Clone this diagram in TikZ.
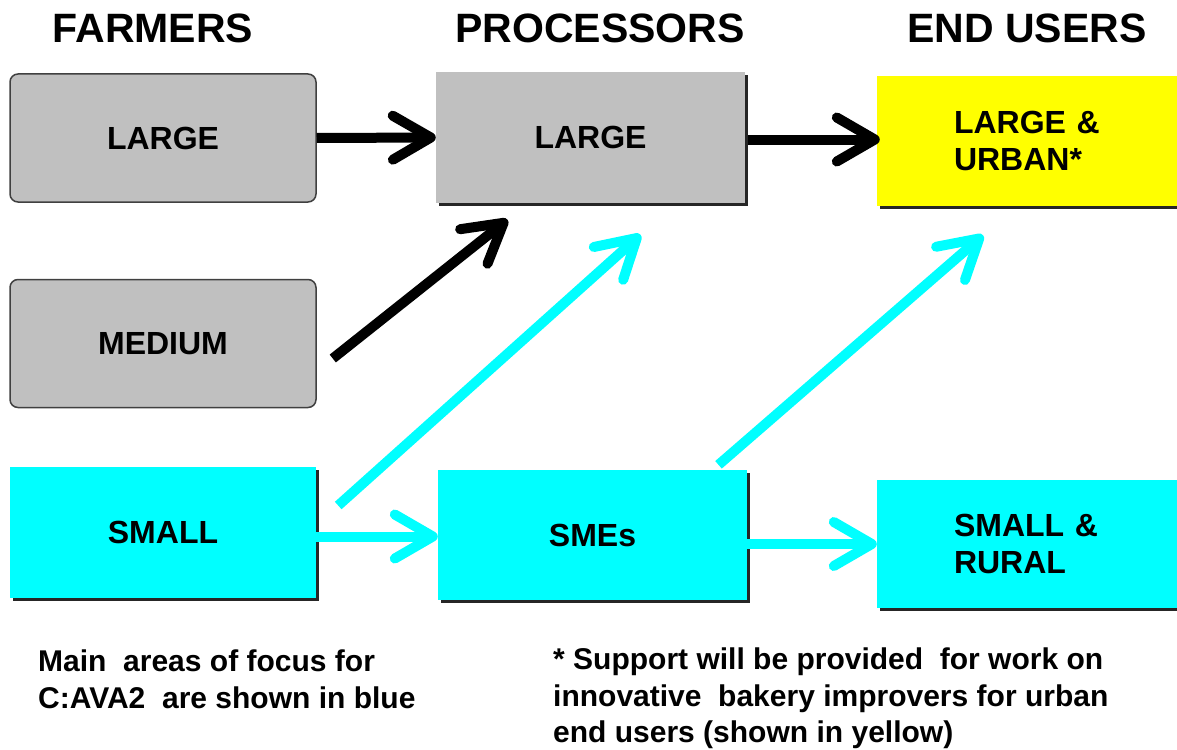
\documentclass[tikz,border=0pt]{standalone}
\usepackage{fontspec}
\setmainfont{Liberation Sans}
\usepackage{tikz}
\usetikzlibrary{arrows.meta}
\usetikzlibrary{shadows}

\definecolor{boxgray}{HTML}{C0C0C0}
\definecolor{focusblue}{HTML}{00FFFF}
\definecolor{urbanyellow}{HTML}{FFFF00}

\tikzset{
   heading/.style={font=\fontsize{41}{45}\selectfont\bfseries},
   boxtext/.style={font=\fontsize{32}{37}\selectfont\bfseries},
   farmbox/.style={boxtext, fill=boxgray, draw=black!75, line width=1.5pt,
           rounded corners=8pt, minimum width=306pt, minimum height=128pt},
   flatbox/.style={boxtext, minimum width=309pt, minimum height=130pt,
           drop shadow={shadow xshift=3pt, shadow yshift=-3pt, fill=black!85, opacity=1}},
   flow/.style={line width=10pt, -{Straight Barb[length=38pt,width=44pt,round]}},
   note/.style={font=\fontsize{30}{36.5}\selectfont\bfseries, align=left, anchor=north west, inner sep=0pt}
}

\begin{document}
\begin{tikzpicture}[x=1pt,y=-1pt]
    \useasboundingbox (0,0) rectangle (1177,749);

    \node[heading] (hfarm) at (153,28) {FARMERS};
    \node[heading] (hproc) at (600,28) {PROCESSORS};
    \node[heading] (hend) at (1027,28) {END USERS};

    % farmers
    \node[farmbox] (flarge) at (163,138) {LARGE};
    \node[farmbox] (fmedium) at (163,343.5) {MEDIUM};
    \node[flatbox, fill=focusblue, minimum width=306pt, minimum height=131pt] (fsmall) at (163,532.5) {SMALL};

    % processors
    \node[flatbox, fill=boxgray] (plarge) at (590.5,137.5) {LARGE};
    \node[flatbox, fill=focusblue] (psme) at (592.5,535) {SMEs};

    % end users
    \node[flatbox, fill=urbanyellow, minimum width=304pt, text width=150pt, align=left] (urban) at (1029,141) {LARGE \&\\URBAN*};
    \node[flatbox, fill=focusblue, minimum width=304pt, minimum height=128pt, text width=150pt, align=left] (rural) at (1029,544) {SMALL \&\\RURAL};

    \draw[flow, black] (flarge.east) -- (plarge.west);
    \draw[flow, black] ([xshift=3pt,yshift=-2pt]plarge.east) -- ([xshift=3pt,yshift=-2pt]plarge.east -| urban.west);
    \draw[flow, black] ([xshift=16pt,yshift=-15pt]fmedium.east) -- ([xshift=-83pt,yshift=-17pt]plarge.south);

    \draw[flow, focusblue] ([xshift=22pt,yshift=27pt]fsmall.east) -- ([xshift=50pt,yshift=-32pt]plarge.south);
    \draw[flow, focusblue] ([xshift=126pt,yshift=5pt]psme.north) -- ([xshift=-46pt,yshift=-29pt]urban.south);
    \draw[flow, focusblue] ([yshift=-4pt]fsmall.east) -- ([yshift=-4pt]fsmall.east -| psme.west);
    \draw[flow, focusblue] (rural.west -| psme.east) -- (rural.west);

    \node[note] (focus) at (38,650) {Main~ areas of focus for\\C:AVA2~ are shown in blue};
    \node[note] (support) at (553,648) {* Support will be provided~ for work on\\innovative~ bakery improvers for urban\\end users (shown in yellow)};
\end{tikzpicture}
\end{document}
